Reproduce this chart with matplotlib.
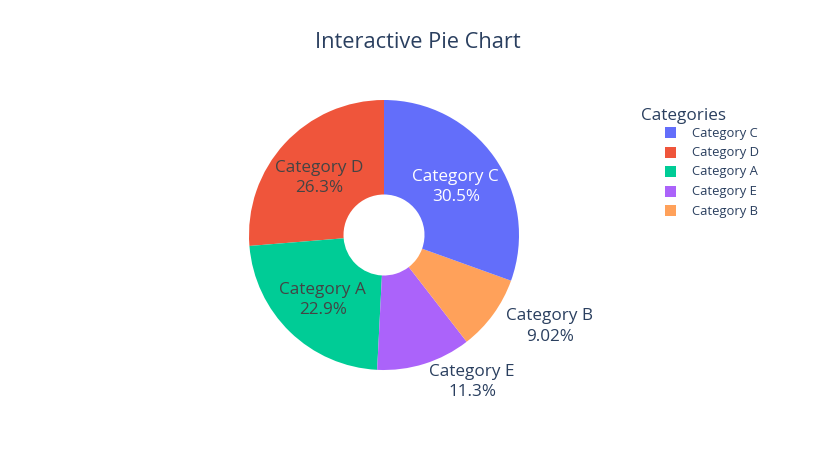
import numpy as np
import matplotlib
matplotlib.use("Agg")
import matplotlib.pyplot as plt
from matplotlib.patches import Rectangle

# slice order as drawn (counter-clockwise from 12 o'clock)
categories = ["Category D", "Category A", "Category E", "Category B", "Category C"]
values = [26.3, 22.9, 11.3, 9.02, 30.5]
colors = ["#EF553B", "#00cc96", "#ab63fa", "#FFA15A", "#636efa"]
inside = [True, True, False, False, True]
text_colors = ["#444444", "#444444", "#2a3f5f", "#2a3f5f", "#ffffff"]
legend_order = ["Category C", "Category D", "Category A", "Category E", "Category B"]

plt.rcParams["font.family"] = ["Open Sans", "DejaVu Sans"]

W, H = 836, 450
fig = plt.figure(figsize=(W / 100, H / 100), dpi=100)

# pie centre (384, 235) px, radius 135 px
cx, cy, R = 384, 235, 135
ax = fig.add_axes([(cx - R) / W, (H - cy - R) / H, 2 * R / W, 2 * R / H])

wedges, _ = ax.pie(values, colors=colors, startangle=90, counterclock=True,
                   radius=1, wedgeprops=dict(width=0.7, linewidth=0),
                   normalize=True)
ax.set_xlim(-1, 1)
ax.set_ylim(-1, 1)
ax.axis("off")

total = sum(values)
for w, lab, v, ins, tc in zip(wedges, categories, values, inside, text_colors):
    mid = np.deg2rad((w.theta1 + w.theta2) / 2)
    txt = f"{lab}\n{100 * v / total:.3g}%"
    if ins:
        r = 0.65
        ax.text(r * np.cos(mid), r * np.sin(mid) - 0.016, txt, ha="center", va="center",
                fontsize=12.3, color=tc, linespacing=1.35, clip_on=False)
    else:
        r = 1.12
        ax.text(r * np.cos(mid), r * np.sin(mid) - 0.02, txt, ha="left", va="center",
                fontsize=12.3, color=tc, linespacing=1.35, multialignment="center",
                clip_on=False)

fig.text(0.5, 1 - 43 / H, "Interactive Pie Chart", ha="center", va="center",
         fontsize=15.7, color="#2a3f5f")

# legend drawn by hand so the title sits left of the items, as in plotly
fig.text(641 / W, 1 - 116 / H, "Categories", ha="left", va="center",
         fontsize=12.3, color="#2a3f5f")
for i, name in enumerate(legend_order):
    yc = 133 + i * 19.5
    col = colors[categories.index(name)]
    fig.patches.append(Rectangle((665 / W, 1 - (yc + 5.5) / H), 11 / W, 11 / H,
                                 transform=fig.transFigure, facecolor=col,
                                 edgecolor="none"))
    fig.text(692 / W, 1 - yc / H, name, ha="left", va="center",
             fontsize=9.4, color="#2a3f5f")

fig.savefig("out.png", dpi=100)
